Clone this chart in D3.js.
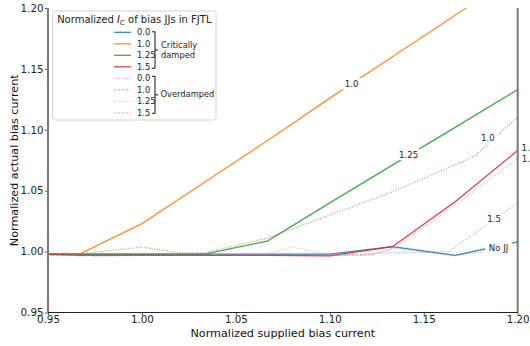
<!DOCTYPE html>
<html>
<head>
<meta charset="utf-8">
<script src="https://cdn.jsdelivr.net/npm/d3@7"></script>
<style>
  body { margin: 0; background: #fff; }
  svg { display: block; }
</style>
</head>
<body>
<div id="chart"></div>
<script>
// ============================================================
//  Bias current delivered to the FJTL vs supplied bias current
// ============================================================

// critically damped runs share one x grid
const xCrit = [0.95, 0.9667, 1.0, 1.0333, 1.0667, 1.1, 1.1333, 1.1667, 1.2];
const critNoJJ = [0.998, 0.998, 0.998, 0.998, 0.998, 0.998, 1.004, 0.997, 1.008];
const crit10 = [0.998, 0.998, 1.023, 1.057, 1.091, 1.126, 1.160, 1.194, 1.228];
const crit125 = [0.998, 0.998, 0.998, 0.998, 1.0086, 1.040, 1.071, 1.102, 1.133];
const crit15 = [0.998, 0.997, 0.997, 0.997, 0.997, 0.9965, 1.004, 1.041, 1.083];

const od00X = [0.95, 0.967, 0.98, 1.0, 1.1, 1.122, 1.1333, 1.1667, 1.18, 1.2];
const od00 = [0.9975, 0.9965, 0.9963, 0.997, 0.997, 0.9972, 1.003, 0.9965, 0.9997, 1.006];
const od10X = [0.95, 0.967, 1.0, 1.02, 1.0333, 1.0667, 1.1333, 1.1767, 1.2];
const od10 = [0.998, 0.998, 1.0037, 0.999, 0.999, 1.011, 1.049, 1.078, 1.1106];
const od125X = [0.95, 0.967, 1.0, 1.0667, 1.08, 1.0933, 1.1, 1.122, 1.1333, 1.1667, 1.2];
const od125 = [0.997, 0.997, 0.997, 0.998, 1.0037, 0.999, 0.997, 0.9975, 1.002, 1.038, 1.0764];
const od15X = [0.95, 1.0, 1.1, 1.1333, 1.1633, 1.2];
const od15 = [0.997, 0.997, 0.997, 0.999, 1.0, 1.04];

const legendNames = ['0.0', '1.0', '1.25', '1.5'];
const critColors = ['#1f77b4', '#ff7f0e', '#2ca02c', '#d62728'];
const odColors = ['#9467bd', '#8c564b', '#e377c2', '#7f7f7f'];

// inline labels on the curves
const labelText = ['1.0', '1.25', '1.0', '1.5', '1.25', '1.5', 'No JJ'];
const labelX = [1.1116, 1.1419, 1.1841, 1.2057, 1.2073, 1.1874, 1.1898];
const labelY = [1.1378, 1.0797, 1.093, 1.0853, 1.0758, 1.0268, 1.0032];

const xTicks = [0.95, 1.0, 1.05, 1.1, 1.15, 1.2];
const yTicks = [0.95, 1.0, 1.05, 1.1, 1.15, 1.2];

const W = 530, H = 346;
const margin = { top: 8, right: 12.3, bottom: 33.5, left: 48 };
const FONT = '"DejaVu Sans", sans-serif';

const svg = d3.select('#chart').append('svg').attr('width', W).attr('height', H)
  .style('font-family', FONT);

const x = d3.scaleLinear().domain([0.95, 1.2]).range([margin.left, W - margin.right]);
const y = d3.scaleLinear().domain([0.95, 1.2]).range([H - margin.bottom, margin.top]);

svg.append('clipPath').attr('id', 'plot-clip')
  .append('rect')
  .attr('x', margin.left).attr('y', margin.top)
  .attr('width', W - margin.left - margin.right)
  .attr('height', H - margin.top - margin.bottom);

const line = d3.line().x(d => x(d[0])).y(d => y(d[1]));
const zip = (xs, ys) => xs.map((v, i) => [v, ys[i]]);

const critSeries = [critNoJJ, crit10, crit125, crit15].map(ys => zip(xCrit, ys));
const odSeries = [zip(od00X, od00), zip(od10X, od10), zip(od125X, od125), zip(od15X, od15)];

const plot = svg.append('g').attr('clip-path', 'url(#plot-clip)');

critSeries.forEach((pts, i) => {
  plot.append('path').datum(pts)
    .attr('d', line).attr('fill', 'none')
    .attr('stroke', critColors[i]).attr('stroke-width', 1.25)
    .attr('stroke-opacity', 0.9);
});
odSeries.forEach((pts, i) => {
  plot.append('path').datum(pts)
    .attr('d', line).attr('fill', 'none')
    .attr('stroke', odColors[i]).attr('stroke-width', 1.3)
    .attr('stroke-dasharray', '1,1.6')
    .attr('stroke-opacity', 0.6);
});

// curve labels: white box punches a gap in the line underneath
const labels = svg.append('g').style('font-size', '8.6px');
labelText.forEach((t, i) => {
  const g = labels.append('g').attr('transform', `translate(${x(labelX[i])},${y(labelY[i])})`);
  const txt = g.append('text').attr('text-anchor', 'middle').attr('dy', '0.35em')
    .attr('fill', '#222').text(t);
  const bb = txt.node().getBBox();
  g.insert('rect', 'text')
    .attr('x', bb.x - 3.5).attr('y', bb.y - 0.5)
    .attr('width', bb.width + 7).attr('height', bb.height + 1)
    .attr('fill', '#fff');
});

// axes
const xAxis = svg.append('g').attr('transform', `translate(0,${H - margin.bottom})`)
  .call(d3.axisBottom(x).tickValues(xTicks).tickFormat(d3.format('.2f')).tickSize(2.5).tickPadding(1));
const yAxis = svg.append('g').attr('transform', `translate(${margin.left},0)`)
  .call(d3.axisLeft(y).tickValues(yTicks).tickFormat(d3.format('.2f')).tickSize(3).tickPadding(1.5));
[xAxis, yAxis].forEach(a => {
  a.select('.domain').remove();
  a.selectAll('.tick line').attr('stroke', '#555');
  a.selectAll('.tick text').attr('fill', '#222')
    .style('font-family', FONT).style('font-size', '10.3px');
});

// spines
svg.append('line')
  .attr('x1', margin.left).attr('x2', margin.left)
  .attr('y1', margin.top).attr('y2', H - margin.bottom)
  .attr('stroke', '#7a7a7a').attr('stroke-width', 2);
svg.append('line')
  .attr('x1', W - margin.right).attr('x2', W - margin.right)
  .attr('y1', margin.top).attr('y2', H - margin.bottom)
  .attr('stroke', '#7a7a7a').attr('stroke-width', 2);
svg.append('line')
  .attr('x1', margin.left).attr('x2', W - margin.right)
  .attr('y1', H - margin.bottom).attr('y2', H - margin.bottom)
  .attr('stroke', '#222').attr('stroke-width', 1.2);

svg.append('text')
  .attr('x', (margin.left + W - margin.right) / 2).attr('y', H - 9.5)
  .attr('text-anchor', 'middle').attr('fill', '#111')
  .style('font-size', '11.2px')
  .text('Normalized supplied bias current');
svg.append('text')
  .attr('transform', `translate(18,${(margin.top + H - margin.bottom) / 2}) rotate(-90)`)
  .attr('text-anchor', 'middle').attr('fill', '#111')
  .style('font-size', '11.2px')
  .text('Normalized actual bias current');

// legend
const leg = svg.append('g').style('font-size', '8.3px');
leg.append('rect')
  .attr('x', 52.7).attr('y', 11).attr('width', 163.3).attr('height', 109).attr('rx', 2.5)
  .attr('fill', '#fff').attr('fill-opacity', 0.8)
  .attr('stroke', '#d0d0d0').attr('stroke-width', 1);

const title = leg.append('text').attr('x', 134.3).attr('y', 22.6)
  .attr('text-anchor', 'middle').attr('fill', '#222').style('font-size', '10px');
title.append('tspan').text('Normalized ');
title.append('tspan').style('font-style', 'italic').text('I');
title.append('tspan').attr('dy', 2).style('font-style', 'italic').style('font-size', '7px').text('C');
title.append('tspan').attr('dy', -2).text(' of bias JJs in FJTL');

const rowY = i => 32.3 + i * 11.5;
const legendRows = critColors.map((c, i) => ({ c, name: legendNames[i], od: false }))
  .concat(odColors.map((c, i) => ({ c, name: legendNames[i], od: true })));
legendRows.forEach((r, i) => {
  leg.append('line')
    .attr('x1', 114).attr('x2', 131).attr('y1', rowY(i)).attr('y2', rowY(i))
    .attr('stroke', r.c).attr('stroke-width', 1.25)
    .attr('stroke-opacity', r.od ? 0.6 : 0.9)
    .attr('stroke-dasharray', r.od ? '1,1.6' : null);
  leg.append('text').attr('x', 137).attr('y', rowY(i)).attr('dy', '0.35em')
    .attr('fill', '#222').text(r.name);
});

// right-hand brackets grouping the rows
function bracket(y0, y1) {
  const bx = 155, ym = (y0 + y1) / 2;
  leg.append('path')
    .attr('d', `M${bx - 3},${y0}H${bx}V${y1}H${bx - 3}M${bx},${ym}H${bx + 3}`)
    .attr('fill', 'none').attr('stroke', '#111').attr('stroke-width', 1);
}
bracket(rowY(0) - 0.5, rowY(3) + 1.5);
bracket(rowY(4) - 2, rowY(7) + 0.5);
leg.append('text').attr('x', 161).attr('y', 45).attr('dy', '0.35em').attr('fill', '#222').text('Critically');
leg.append('text').attr('x', 161).attr('y', 55.3).attr('dy', '0.35em').attr('fill', '#222').text('damped');
leg.append('text').attr('x', 160.5).attr('y', 94.3).attr('dy', '0.35em').attr('fill', '#222').text('Overdamped');
</script>
</body>
</html>
